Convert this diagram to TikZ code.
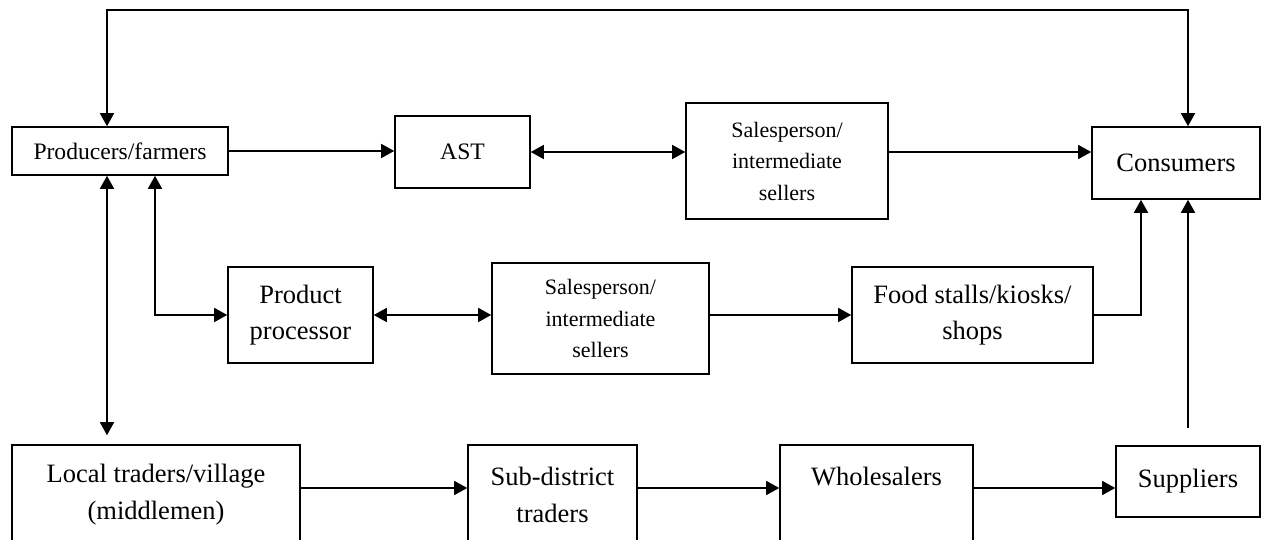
\documentclass[tikz,border=0pt]{standalone}
\usepackage{fontspec}
\setmainfont{Liberation Serif}
\usetikzlibrary{arrows.meta}
\begin{document}
\begin{tikzpicture}[x=1pt,y=-1pt,line width=1.6pt,>={Triangle[length=13pt,width=14pt]},
    box/.style={draw,rectangle,inner sep=0pt,align=center,font=\fontsize{26.5}{37}\selectfont},
    small/.style={font=\fontsize{22}{31.5}\selectfont}]
    \useasboundingbox (0,0) rectangle (1261,540);
    % top row
    \node[box,minimum width=216pt,minimum height=48pt,font=\fontsize{23.6}{28}\selectfont] (prod) at (120,151) {Producers/farmers};
    \node[box,minimum width=135pt,minimum height=72pt,font=\fontsize{23.6}{28}\selectfont] (ast) at (462.5,152) {AST};
    \node[box,small,minimum width=202pt,minimum height=116pt] (sales1) at (787,161) {Salesperson/\\intermediate\\sellers};
    \node[box,minimum width=168pt,minimum height=72pt] (cons) at (1176,163) {Consumers};
    % middle row
    \node[box,minimum width=145pt,minimum height=96pt,font=\fontsize{26.5}{36}\selectfont] (proc) at (300.5,315) {Product\\processor};
    \node[box,small,minimum width=217pt,minimum height=111pt] (sales2) at (600.5,318.5) {Salesperson/\\intermediate\\sellers};
    \node[box,minimum width=241pt,minimum height=96pt,font=\fontsize{26.5}{36}\selectfont] (food) at (972.5,315) {Food stalls/kiosks/\\shops};
    % bottom row
    \node[box,minimum width=288pt,minimum height=100pt] (local) at (156,495) {Local traders/village\\(middlemen)};
    \node[box,minimum width=169pt,minimum height=100pt] (sub) at (552.5,495) {Sub-district\\traders};
    \node[box,minimum width=193pt,minimum height=100pt] (whole) at (876.5,495) {Wholesalers\\~};
    \node[box,minimum width=144pt,minimum height=71pt] (supp) at (1188,481.5) {Suppliers};

    \coordinate (tl) at (107,10);
    \coordinate (tr) at (1188,10);
    \draw[<->] (tl |- prod.north) -- (tl) -- (tr) -- (tr |- cons.north);
    \draw[->] (prod.east) -- (prod.east -| ast.west);
    \draw[<->] (ast.east) -- (ast.east -| sales1.west);
    \draw[->] (sales1.east |- ast.east) -- (cons.west |- ast.east);
    \draw[<->,shorten >=9pt] (tl |- prod.south) -- (tl |- local.north);
    \draw[<->] ([xshift=35pt]prod.south) |- (proc.west);
    \draw[<->] (proc.east) -- (proc.east -| sales2.west);
    \draw[->] (sales2.east |- proc.east) -- (food.west);
    \draw[->] (food.east) -| ([xshift=-35pt]cons.south);
    \draw[->,shorten <=17pt] (supp.north) -- (supp.north |- cons.south);
    \foreach \a/\b in {local/sub,sub/whole,whole/supp}
        \draw[->] ([yshift=7pt]\a.east) -- ([yshift=7pt]\a.east -| \b.west);
\end{tikzpicture}
\end{document}
